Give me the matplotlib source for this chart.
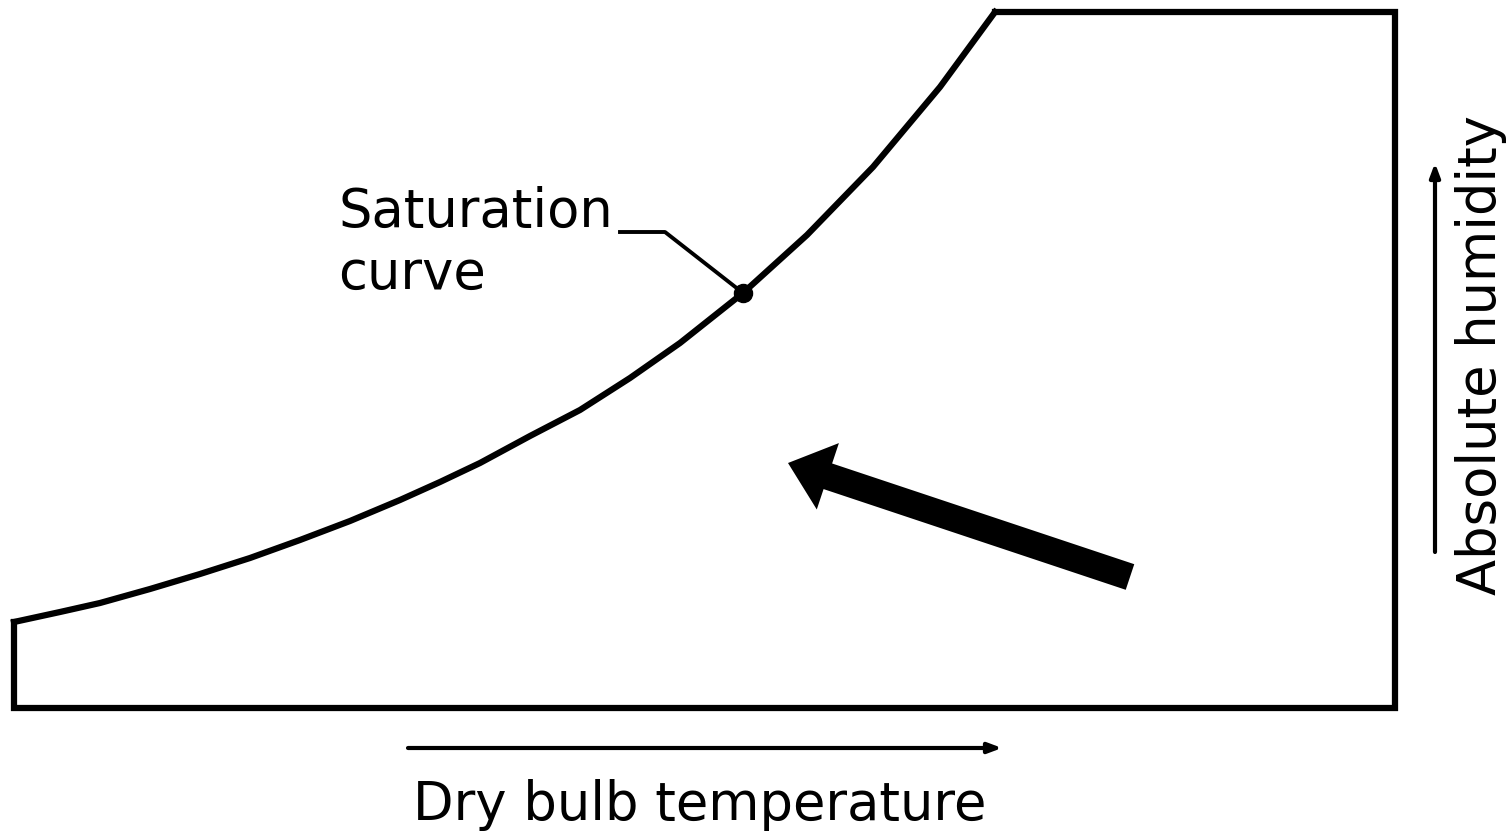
import numpy as np
import matplotlib
matplotlib.use('Agg')
import matplotlib.pyplot as plt
from matplotlib.patches import FancyArrow

# saturation curve (pixel coords, y down)
curve_x = [14, 60, 100, 150, 200, 250, 300, 350, 400, 440, 480, 530, 580, 630, 680, 743, 807, 873, 940, 995]
curve_y = [622, 612, 603, 589, 574, 558, 540, 521, 500, 482, 463, 436, 410, 378, 343, 293, 235, 167, 87, 12]

# rest of the outline: top edge, right edge, bottom edge, left edge
box_x = [995, 1395, 1395, 14, 14]
box_y = [12, 12, 708, 708, 622]

dot_x, dot_y = 743, 293
leader_x = [620, 665, 743]
leader_y = [232, 232, 293]

# process arrow: tail -> tip
arrow_tail = (1130, 577)
arrow_tip = (788, 463)

plt.rcParams['font.family'] = ['DejaVu Sans']
fig = plt.figure(figsize=(15.1, 8.31), dpi=100)
ax = fig.add_axes([0, 0, 1, 1])
ax.set_xlim(0, 1510)
ax.set_ylim(831, 0)
ax.axis('off')

ax.plot(curve_x, curve_y, color='black', lw=4.5, solid_joinstyle='round')
ax.plot(box_x, box_y, color='black', lw=4.5, solid_joinstyle='miter')
ax.plot(leader_x, leader_y, color='black', lw=2.8)
ax.plot(dot_x, dot_y, 'o', color='black', ms=13)

ax.text(338, 227, 'Saturation', fontsize=38, ha='left', va='baseline')
ax.text(338, 289, 'curve', fontsize=38, ha='left', va='baseline')

dx = arrow_tip[0] - arrow_tail[0]
dy = arrow_tip[1] - arrow_tail[1]
ax.add_patch(FancyArrow(arrow_tail[0], arrow_tail[1], dx, dy, width=27,
                        head_width=70, head_length=42,
                        length_includes_head=True, color='black', lw=0))

# axis arrows
ax.annotate('', xy=(1002, 748), xytext=(408, 748),
            arrowprops=dict(arrowstyle='-|>,head_length=0.8,head_width=0.3',
                            lw=3, color='black', shrinkA=0, shrinkB=0))
ax.annotate('', xy=(1435, 163), xytext=(1435, 552),
            arrowprops=dict(arrowstyle='-|>,head_length=0.8,head_width=0.3',
                            lw=3, color='black', shrinkA=0, shrinkB=0))

ax.text(700, 820, 'Dry bulb temperature', fontsize=38, ha='center', va='baseline')
ax.text(1481, 355, 'Absolute humidity', fontsize=38, ha='center', va='center',
        rotation=90)

fig.savefig('out.png', dpi=100)
